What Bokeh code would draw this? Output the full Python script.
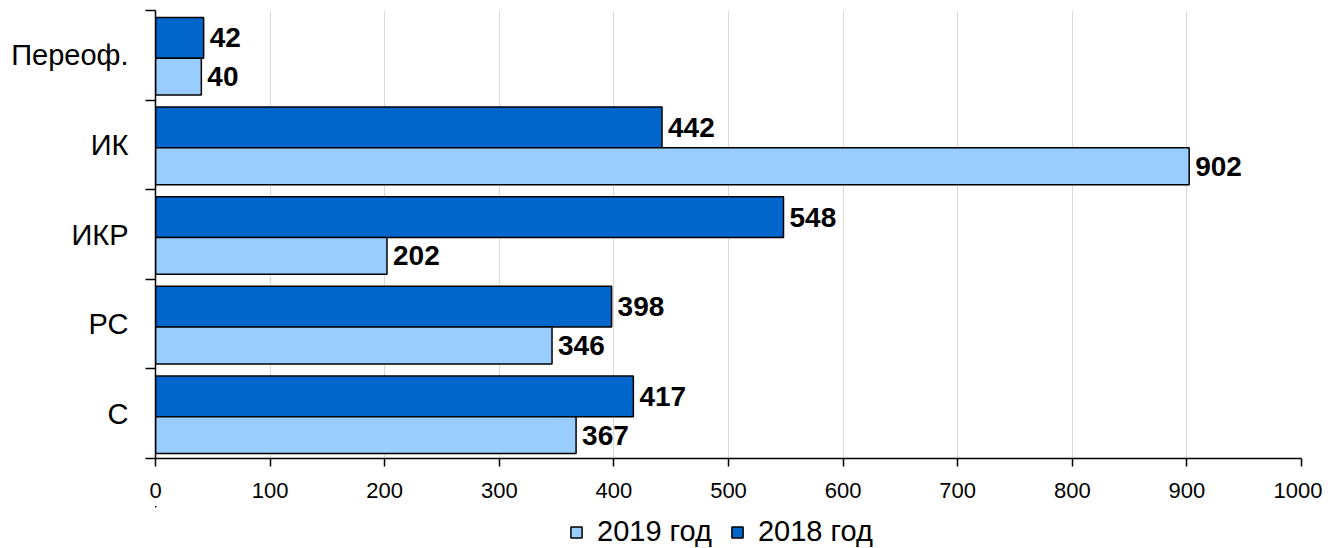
from bokeh.plotting import figure
from bokeh.layouts import column
from bokeh.models import (ColumnDataSource, Range1d, FixedTicker, Legend, LegendItem)
from bokeh.core.properties import value
from bokeh.embed import file_html
from bokeh.resources import INLINE

categories = ["Переоф.", "ИК", "ИКР", "РС", "С"]
v2019 = [40, 902, 202, 346, 367]
v2018 = [42, 442, 548, 398, 417]
x_ticks = [0, 100, 200, 300, 400, 500, 600, 700, 800, 900, 1000]
series_names = ["2019 год", "2018 год"]

FONT = "Liberation Sans"
DARK = "#0066CC"
LIGHT = "#99CCFF"

idx = list(range(len(categories)))
dark_y = [i + 0.3055 for i in idx]
light_y = [i + 0.7385 for i in idx]

src18 = ColumnDataSource(dict(x=v2018, y=dark_y, lab=[str(v) for v in v2018]))
src19 = ColumnDataSource(dict(x=v2019, y=light_y, lab=[str(v) for v in v2019]))

p = figure(frame_width=1146, frame_height=448, output_backend="svg", toolbar_location=None,
           x_range=Range1d(0, 1000), y_range=Range1d(len(categories), 0),
           min_border_left=155, min_border_right=21, min_border_top=10, min_border_bottom=48,
           outline_line_color=None)

r18 = p.hbar(y="y", right="x", left=0, height=0.455, source=src18,
             fill_color=DARK, line_color="black", line_width=1.5)
r19 = p.hbar(y="y", right="x", left=0, height=0.411, source=src19,
             fill_color=LIGHT, line_color="black", line_width=1.5)

for s in (src18, src19):
    p.text(x="x", y="y", text="lab", source=s, x_offset=6,
           text_baseline="middle", text_align="left",
           text_font=value(FONT), text_font_style="bold", text_font_size="28px",
           text_color="black")

xa = p.xaxis[0]
xa.ticker = FixedTicker(ticks=x_ticks, minor_ticks=[])
xa.major_tick_out = 8
xa.major_tick_in = 0
xa.major_tick_line_color = "black"
xa.major_tick_line_width = 1.5
xa.axis_line_color = "black"
xa.axis_line_width = 1.5
xa.major_label_text_font = FONT
xa.major_label_text_font_size = "22px"
xa.major_label_text_color = "black"
xa.major_label_standoff = 16

ya = p.yaxis[0]
centers = [i + 0.5 for i in idx]
ya.ticker = FixedTicker(ticks=centers, minor_ticks=[float(i) for i in range(len(categories) + 1)])
ya.major_label_overrides = {c: name for c, name in zip(centers, categories)}
ya.major_tick_out = 0
ya.major_tick_in = 0
ya.minor_tick_out = 10
ya.minor_tick_in = 0
ya.minor_tick_line_color = "black"
ya.minor_tick_line_width = 1.5
ya.axis_line_color = "black"
ya.axis_line_width = 1.5
ya.major_label_text_font = FONT
ya.major_label_text_font_size = "29px"
ya.major_label_text_color = "black"
ya.major_label_standoff = 17

p.xgrid.grid_line_color = "#d9d9d9"
p.xgrid.grid_line_width = 1
p.ygrid.grid_line_color = None

# legend strip below the chart (its bars lie far outside its ranges; only swatches show)
lg = figure(width=1322, height=42, output_backend="svg", toolbar_location=None,
            x_axis_location=None, y_axis_location=None, outline_line_color=None,
            min_border=0, x_range=Range1d(5000, 6000), y_range=Range1d(-200, -100))
lg.xgrid.visible = False
lg.ygrid.visible = False
d19 = lg.hbar(y="y", right="x", left=0, height=0.411, source=src19,
              fill_color=LIGHT, line_color="black", line_width=1.5)
d18 = lg.hbar(y="y", right="x", left=0, height=0.455, source=src18,
              fill_color=DARK, line_color="black", line_width=1.5)
legend = Legend(items=[LegendItem(label=series_names[0], renderers=[d19]),
                       LegendItem(label=series_names[1], renderers=[d18])],
                orientation="horizontal", location=(414, 0),
                label_text_font=FONT, label_text_font_size="29px",
                label_text_color="black",
                glyph_width=14, glyph_height=14, label_standoff=14, spacing=18,
                padding=0, margin=0, border_line_color=None,
                background_fill_alpha=0)
lg.add_layout(legend, "center")

layout = column(p, lg, spacing=0)
open("out.html", "w").write(file_html(layout, INLINE))
